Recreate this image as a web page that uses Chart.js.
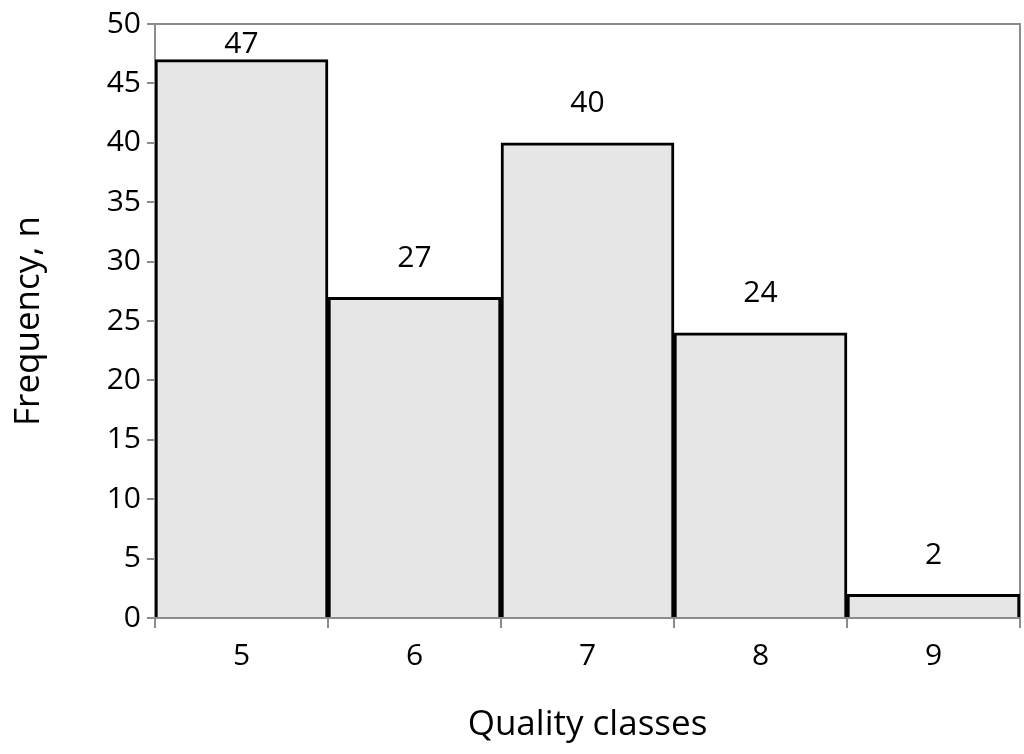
<!DOCTYPE html>
<html>
<head>
<script src="https://cdn.jsdelivr.net/npm/chart.js@4/dist/chart.umd.min.js"></script>
<style>
  html, body { margin: 0; padding: 0; background: #fff; }
  #wrap { width: 1024px; height: 754px; }
</style>
</head>
<body>
<div id="wrap"><canvas id="chart"></canvas></div>
<script>
const classes = ["5", "6", "7", "8", "9"]
const frequency = [47, 27, 40, 24, 2]
const yTicks = [0, 5, 10, 15, 20, 25, 30, 35, 40, 45, 50]

const fontFamily = "'Open Sans', 'Liberation Sans', sans-serif"

// value labels above each bar
const valueLabels = {
  id: "valueLabels",
  afterDatasetsDraw(chart) {
    const ctx = chart.ctx
    const meta = chart.getDatasetMeta(0)
    ctx.save()
    ctx.fillStyle = "#000"
    ctx.font = "30px " + fontFamily
    ctx.textAlign = "center"
    ctx.textBaseline = "bottom"
    meta.data.forEach((bar, i) => {
      const offset = frequency[i] > 45 ? 0 : 24
      ctx.fillText(String(frequency[i]), bar.x, bar.y - offset)
    })
    ctx.restore()
  }
}

// grey frame on top and right of plot area
const frame = {
  id: "frame",
  beforeDatasetsDraw(chart) {
    const { ctx, chartArea: a } = chart
    ctx.save()
    ctx.strokeStyle = "#8c8c8c"
    ctx.lineWidth = 2
    ctx.beginPath()
    ctx.moveTo(a.left, a.top)
    ctx.lineTo(a.right, a.top)
    ctx.lineTo(a.right, a.bottom)
    ctx.stroke()
    ctx.restore()
  }
}

new Chart(document.getElementById("chart"), {
  type: "bar",
  data: {
    labels: classes,
    datasets: [{
      data: frequency,
      backgroundColor: "#e6e6e6",
      borderColor: "#000",
      borderWidth: 3,
      borderSkipped: "bottom",
      categoryPercentage: 1,
      barPercentage: 1
    }]
  },
  options: {
    responsive: true,
    maintainAspectRatio: false,
    animation: false,
    layout: { padding: { top: 18, right: 4, bottom: 4, left: 4 } },
    plugins: { legend: { display: false }, tooltip: { enabled: false } },
    scales: {
      x: {
        afterFit(axis) { axis.height = 132 },
        grid: { offset: true, drawOnChartArea: false, drawTicks: true, tickLength: 10, color: "#8c8c8c", lineWidth: 2 },
        border: { color: "#8c8c8c", width: 2 },
        ticks: { color: "#000", font: { size: 30, family: fontFamily }, padding: 10 },
        title: { display: true, text: "Quality classes", color: "#000", font: { size: 35, family: fontFamily }, padding: { top: 12 } }
      },
      y: {
        min: 0,
        max: 50,
        afterFit(axis) { axis.width = 151 },
        afterBuildTicks(axis) { axis.ticks = yTicks.map(v => ({ value: v })) },
        grid: { drawOnChartArea: false, drawTicks: true, tickLength: 8, color: "#8c8c8c", lineWidth: 2 },
        border: { color: "#8c8c8c", width: 2 },
        ticks: { color: "#000", font: { size: 30, family: fontFamily }, padding: 6 },
        title: { display: true, text: "Frequency, n", color: "#000", font: { size: 35, family: fontFamily }, padding: { bottom: 10 } }
      }
    }
  },
  plugins: [frame, valueLabels]
})
</script>
</body>
</html>
